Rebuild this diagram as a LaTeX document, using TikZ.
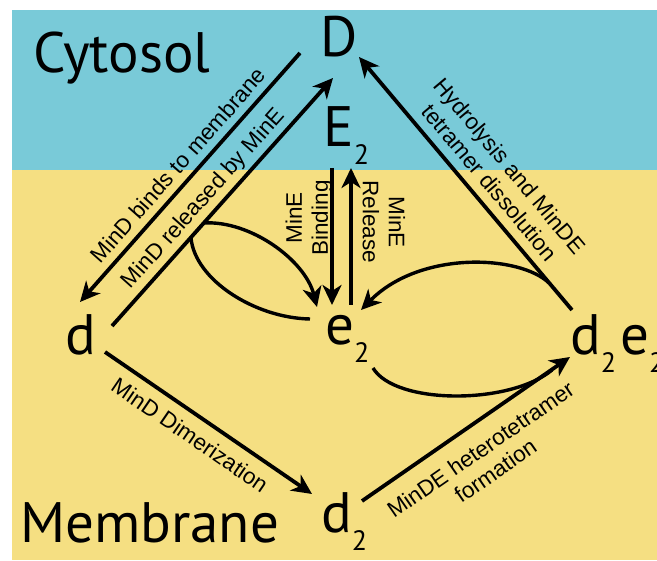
\documentclass[tikz,border=0pt]{standalone}
\usepackage{fontspec}
\setmainfont{Liberation Sans}
\newfontfamily\bigfont{PT Sans}
\usetikzlibrary{arrows.meta}
\definecolor{cyto}{RGB}{121,202,216}
\definecolor{memb}{RGB}{245,223,130}
\newcommand{\subtwo}{\raisebox{-18pt}{\fontsize{28}{28}\selectfont 2}}
\begin{document}
\begin{tikzpicture}[x=1pt,y=-1pt,
  big/.style={font=\bigfont\fontsize{57}{57}\selectfont, inner sep=0pt, anchor=base west},
  lbl/.style={font=\fontsize{22.5}{26}\selectfont, inner sep=0pt, align=center},
  tip/.style={-{Stealth[length=20pt,width=19pt,inset=6pt]}},
  rx/.style={line width=3.8pt, tip},
  crv/.style={line width=3.4pt},
]
\useasboundingbox (0,0) rectangle (657,561);
\clip (0,0) rectangle (657,561);
\fill[white] (0,0) rectangle (657,561);
\fill[cyto] (12,10) rectangle (657,170);
\fill[memb] (12,170) rectangle (657,560);

% species
\node[big] (cyt) at (33,73) {Cytosol};
\node[big] (D) at (320,57) {D};
\node[big] (E) at (323,147) {E\subtwo};
\node[big] (d) at (65,355) {d};
\node[big] (e) at (325,345) {e\subtwo};
\node[big] (de) at (570,355) {d\subtwo\hspace{4pt}e\subtwo};
\node[big] (dd) at (321,533) {d\subtwo};
\node[big] (mem) at (20,543) {Membrane};

% arrow end points
\coordinate (DtoD) at (300,53);   \coordinate (Dtod) at (80,302);
\coordinate (dtoDs) at (112,326); \coordinate (dtoDe) at (333,78);
\coordinate (deDs) at (572,310);  \coordinate (deDe) at (359,57);
\coordinate (ddS) at (105,352);   \coordinate (ddE) at (312,494);
\coordinate (hetS) at (362,501);  \coordinate (hetE) at (570,357);
\coordinate (bindS) at (332,168); \coordinate (bindE) at (332,305);
\coordinate (relS) at (351,305);  \coordinate (relE) at (351,168);
\coordinate (loopA) at (203.5,223); \coordinate (loopAe) at (317,307);
\coordinate (loopBs) at (310,319); \coordinate (loopB) at (191,238);
\coordinate (hydS) at (549,283);  \coordinate (hydE) at (361,310);
\coordinate (fmS) at (373,368);   \coordinate (fmE) at (552,370);

\draw[rx] (DtoD) -- (Dtod);
\draw[rx] (dtoDs) -- (dtoDe);
\draw[rx] (deDs) -- (deDe);
\draw[rx] (ddS) -- (ddE);
\draw[rx] (hetS) -- (hetE);
\draw[rx] (bindS) -- (bindE);
\draw[rx] (relS) -- (relE);
\draw[crv,tip] (loopA) .. controls (250,220) and (305,260) .. (loopAe);
\draw[crv] (loopBs) .. controls (255,318) and (195,280) .. (loopB);
\draw[crv,tip] (hydS) .. controls (520,255) and (420,250) .. (hydE);
\draw[crv] (fmS) .. controls (395,405) and (510,405) .. (fmE);

% labels
\node[lbl, rotate=48.5] (l1) at (178,165) {MinD binds to membrane};
\node[lbl, rotate=48.3] (l2) at (204,199) {MinD released by MinE};
\node[lbl, rotate=-50] (l3) at (500,174) {Hydrolysis and MinDE\\tetramer dissolution};
\node[lbl, rotate=-34.4] (l4) at (190,435) {MinD Dimerization};
\node[lbl, rotate=34.7] (l5) at (488,460) {MinDE heterotetramer\\formation};
\node[lbl, rotate=90] (l6) at (309,218) {MinE\\Binding};
\node[lbl, rotate=-90] (l7) at (384,222) {MinE\\Release};
\end{tikzpicture}
\end{document}
